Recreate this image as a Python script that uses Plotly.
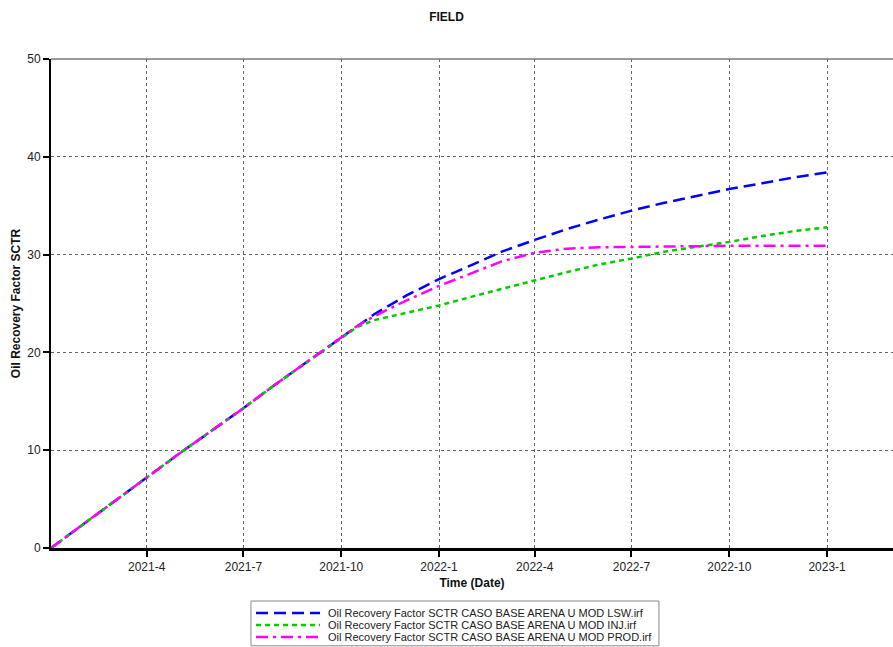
import plotly.graph_objects as go

dates = ["2021-01-01", "2021-02-01", "2021-03-01", "2021-04-01", "2021-05-01", "2021-06-01",
         "2021-07-01", "2021-08-01", "2021-09-01", "2021-10-01", "2021-10-16", "2021-11-01",
         "2021-12-01", "2022-01-01", "2022-02-01", "2022-03-01", "2022-04-01", "2022-05-01",
         "2022-06-01", "2022-07-01", "2022-08-01", "2022-09-01", "2022-10-01", "2022-11-01",
         "2022-12-01", "2023-01-01"]

lsw = [0.0, 2.45, 4.7, 7.2, 9.6, 12.0, 14.3, 16.8, 19.2, 21.5, 22.7, 23.9,
       25.8, 27.5, 28.95, 30.3, 31.5, 32.6, 33.6, 34.5, 35.3, 36.0, 36.7, 37.3,
       37.9, 38.4]
inj = [0.0, 2.45, 4.7, 7.2, 9.6, 12.0, 14.3, 16.8, 19.2, 21.5, 22.6, 23.3,
       24.0, 24.8, 25.7, 26.5, 27.4, 28.2, 29.0, 29.6, 30.3, 30.8, 31.3, 31.9,
       32.4, 32.8]
prod = [0.0, 2.45, 4.7, 7.2, 9.6, 12.0, 14.3, 16.8, 19.2, 21.5, 22.7, 23.7,
        25.3, 26.8, 28.1, 29.3, 30.2, 30.6, 30.75, 30.8, 30.8, 30.85, 30.9, 30.9,
        30.9, 30.9]

series_names = [
    "Oil Recovery Factor SCTR CASO BASE ARENA U MOD LSW.irf",
    "Oil Recovery Factor SCTR CASO BASE ARENA U MOD INJ.irf",
    "Oil Recovery Factor SCTR CASO BASE ARENA U MOD PROD.irf",
]
series_colors = ["#0000ff", "#00cc00", "#ff00ff"]
series_dashes = ["12px,6px", "5px,4px", "12px,5px,3px,5px"]

tick_vals = ["2021-04-01", "2021-07-01", "2021-10-01", "2022-01-01", "2022-04-01",
             "2022-07-01", "2022-10-01", "2023-01-01"]
tick_text = ["2021-4", "2021-7", "2021-10", "2022-1", "2022-4", "2022-7", "2022-10", "2023-1"]

FONT = "Arial, Liberation Sans, sans-serif"

fig = go.Figure()
for name, vals, col, dsh in zip(series_names, [lsw, inj, prod], series_colors, series_dashes):
    fig.add_trace(go.Scatter(x=dates, y=vals, mode="lines", name=name, showlegend=False,
                             line=dict(color=col, width=2.5, dash=dsh)))

fig.update_layout(
    width=893, height=647,
    margin=dict(l=51, r=0, t=59, b=99, autoexpand=False),
    paper_bgcolor="white", plot_bgcolor="white",
    font=dict(family=FONT, size=12, color="#222"),
    title=dict(text="<b>FIELD</b>", x=0.5, xanchor="center", y=0.974, yanchor="middle",
               font=dict(family=FONT, size=12, color="#111")),
    showlegend=False,
)

fig.update_xaxes(
    range=["2021-01-01", "2023-03-04"],
    tickvals=tick_vals, ticktext=tick_text,
    showgrid=True, gridcolor="#666", griddash="dot", gridwidth=1,
    showline=True, linecolor="black", linewidth=3,
    ticks="outside", ticklen=6, tickwidth=2, tickcolor="black",
    tickfont=dict(family=FONT, size=12, color="#222"),
    title=dict(text="<b>Time (Date)</b>", font=dict(family=FONT, size=12, color="#111"), standoff=6),
    zeroline=False,
)
fig.update_yaxes(
    range=[0, 50], dtick=10,
    showgrid=True, gridcolor="#666", griddash="dot", gridwidth=1,
    showline=True, linecolor="black", linewidth=2,
    ticks="outside", ticklen=6, tickwidth=2, tickcolor="black",
    tickfont=dict(family=FONT, size=12, color="#222"),
    title=dict(text="<b>Oil Recovery Factor SCTR</b>", font=dict(family=FONT, size=12, color="#111"), standoff=4),
    zeroline=False,
)

# top frame line
fig.add_shape(type="line", xref="paper", yref="paper", x0=0, x1=1, y0=1, y1=1,
              line=dict(color="#777", width=1.5))

# compact legend box below the axis
leg_x0, leg_x1 = 0.2375, 0.722
leg_y0, leg_y1 = -0.2, -0.1084
fig.add_shape(type="rect", xref="paper", yref="paper", x0=leg_x0, x1=leg_x1, y0=leg_y0, y1=leg_y1,
              line=dict(color="#888", width=1), fillcolor="white", layer="above")
row_y = [-0.1329, -0.1575, -0.182]
for name, col, dsh, ry in zip(series_names, series_colors, series_dashes, row_y):
    fig.add_shape(type="line", xref="paper", yref="paper", x0=0.2435, x1=0.3195, y0=ry, y1=ry,
                  line=dict(color=col, width=2.5, dash=dsh), layer="above")
    fig.add_annotation(xref="paper", yref="paper", x=0.327, y=ry, xanchor="left", yanchor="middle",
                       text=name, showarrow=False, font=dict(family=FONT, size=11, color="#222"))

fig.write_html("out.html")
